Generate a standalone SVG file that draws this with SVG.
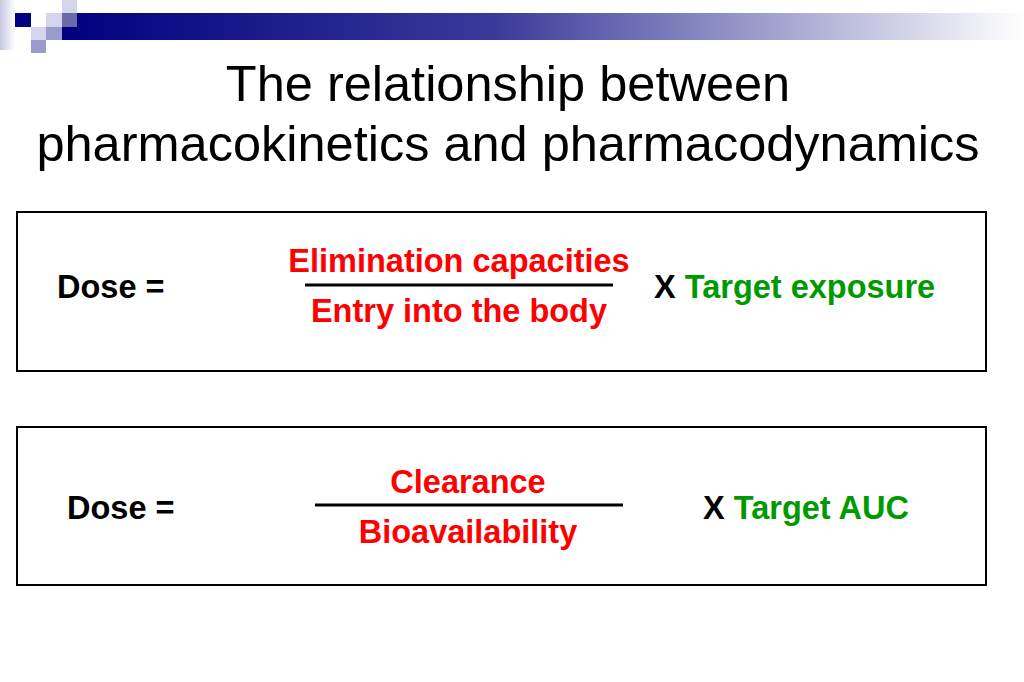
<svg xmlns="http://www.w3.org/2000/svg" width="1024" height="682" viewBox="0 0 1024 682">
<defs>
<linearGradient id="bar" x1="0" x2="1" y1="0" y2="0"><stop offset="0" stop-color="#000080"/><stop offset="0.45" stop-color="#3a3a9a"/><stop offset="1" stop-color="#ffffff"/></linearGradient>
<linearGradient id="lft" x1="0" x2="1"><stop offset="0" stop-color="#c8c8e4"/><stop offset="1" stop-color="#ffffff"/></linearGradient>
</defs>
<style>
text{font-family:"Liberation Sans",Arial,sans-serif}
.t{font-size:50.5px;fill:#000;text-anchor:middle}
.b{font-size:32.5px;font-weight:bold}
.r{fill:#ff0000;text-anchor:middle}
.g{fill:#009900}
.box{fill:none;stroke:#000;stroke-width:2}
</style>
<rect width="1024" height="682" fill="#fff"/>
<g id="decor">
<rect x="0" y="0" width="15" height="50" fill="url(#lft)"/>
<rect x="62" y="13" width="962" height="27" fill="url(#bar)"/>
<rect x="15" y="13" width="16" height="14" fill="#000080"/>
<rect x="46" y="13" width="16" height="14" fill="#d4d4ea"/>
<rect x="62" y="0" width="15" height="13" fill="#d4d4ea"/>
<rect x="62" y="13" width="15" height="14" fill="#6a6aaa"/>
<rect x="31" y="27" width="15" height="13" fill="#d4d4ea"/>
<rect x="46" y="27" width="16" height="13" fill="#9a9acc"/>
<rect x="31" y="40" width="15" height="13" fill="#9a9acc"/>
</g>
<text class="t" x="508" y="101">The relationship between</text>
<text class="t" x="508" y="161">pharmacokinetics and pharmacodynamics</text>
<g id="box1">
<rect class="box" x="17" y="212" width="969" height="159"/>
<text class="b" x="57" y="298">Dose =</text>
<text class="b r" x="459" y="272">Elimination capacities</text>
<line x1="305" y1="285" x2="613" y2="285" stroke="#000" stroke-width="3"/>
<text class="b r" x="459" y="322">Entry into the body</text>
<text class="b" x="654" y="298">X <tspan class="g">Target exposure</tspan></text>
</g>
<g id="box2">
<rect class="box" x="17" y="427" width="969" height="158"/>
<text class="b" x="67" y="519">Dose =</text>
<text class="b r" x="468" y="493">Clearance</text>
<line x1="315" y1="505" x2="623" y2="505" stroke="#000" stroke-width="3"/>
<text class="b r" x="468" y="543">Bioavailability</text>
<text class="b" x="703" y="519">X <tspan class="g">Target AUC</tspan></text>
</g>
</svg>
